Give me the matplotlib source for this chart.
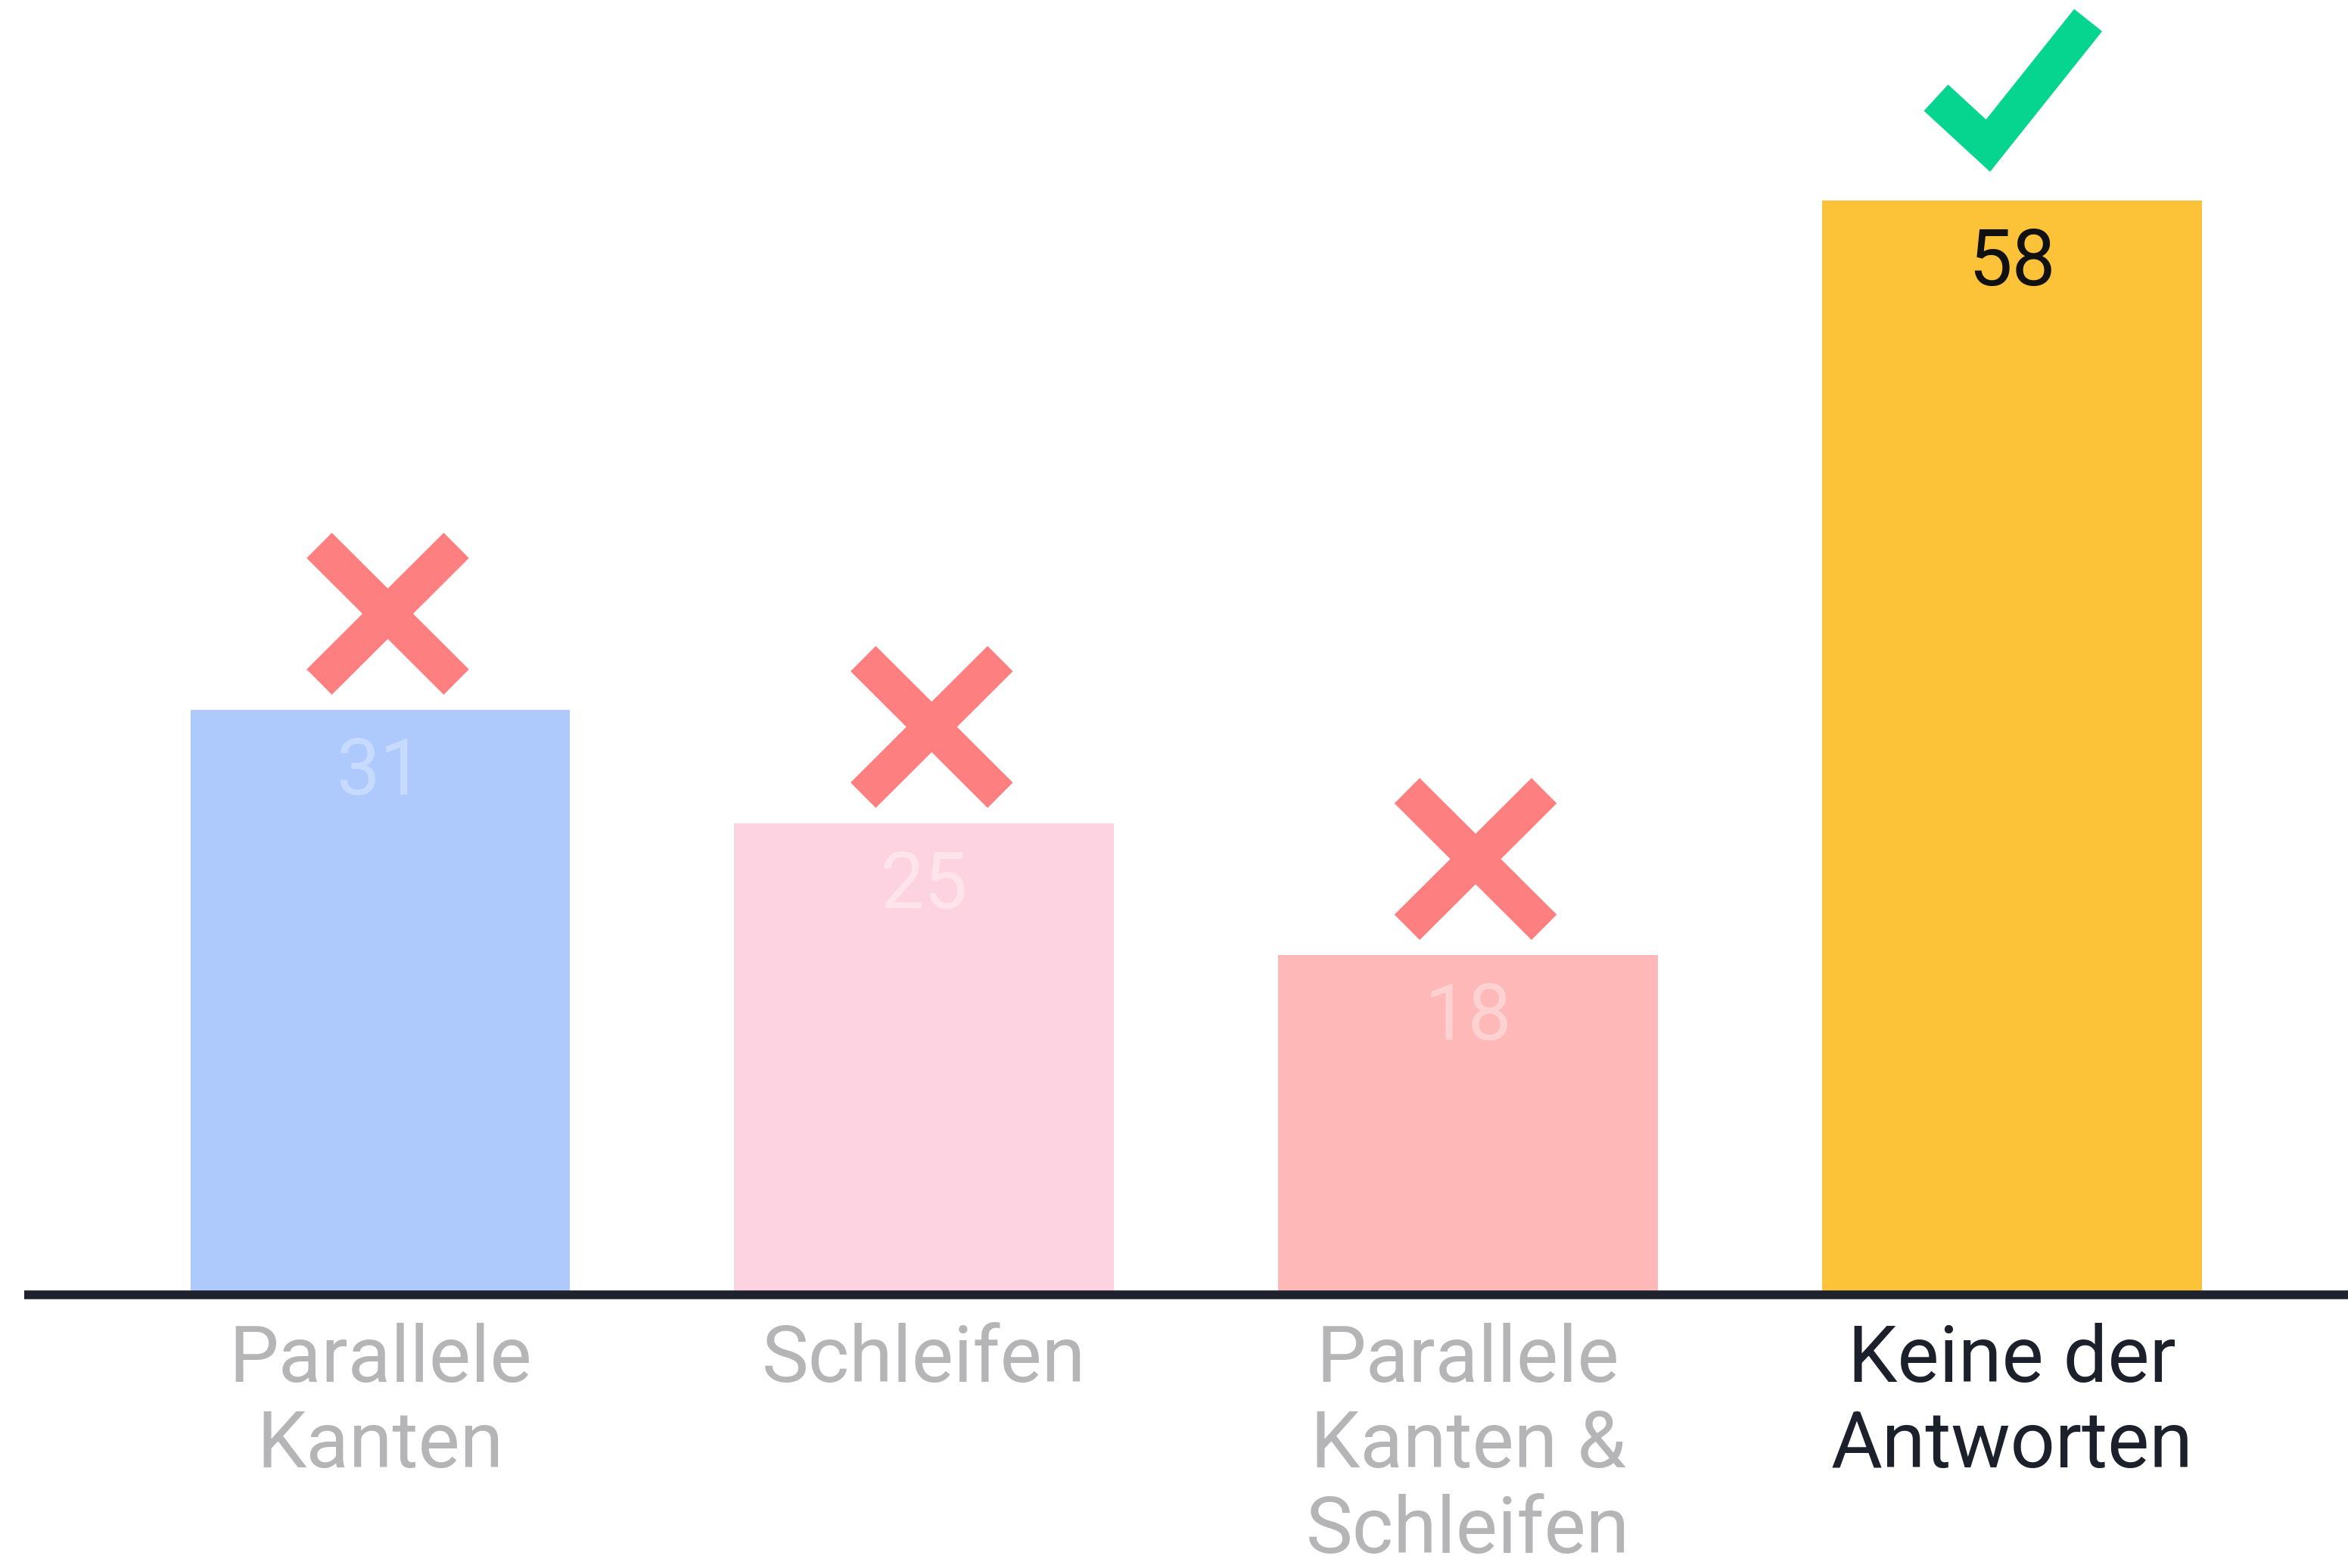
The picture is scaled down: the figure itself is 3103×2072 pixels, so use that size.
import matplotlib
matplotlib.use('AGG')
import matplotlib.pyplot as plt

# data
categories = ['Parallele\nKanten', 'Schleifen', 'Parallele\nKanten &\nSchleifen', 'Keine der\nAntworten']
values = [31, 25, 18, 58]
correct = [False, False, False, True]

bar_colors = ['#aecafc', '#fed3e1', '#feb8b8', '#fdc338']
value_colors = ['#c6dbff', '#ffe4ec', '#ffd2d2', '#111111']
label_colors = ['#b5b5b8', '#b5b5b8', '#b5b5b8', '#1c202b']

plt.rcParams['font.family'] = ['Roboto', 'DejaVu Sans']

fig = plt.figure(figsize=(31.03, 20.72), dpi=100)
ax = fig.add_axes([0, 0, 1, 1])
ax.set_xlim(-0.699, 3.618)
ax.set_ylim(-14.48, 68.63)
ax.axis('off')

xs = list(range(len(values)))
ax.bar(xs, values, width=0.698, color=bar_colors, zorder=1)

# baseline
ax.axhline(0, xmin=0.0103, xmax=1, lw=8.3, color='#1e222d', zorder=3,
           solid_capstyle='butt')

for x, v, lab, vc, lc, ok in zip(xs, values, categories, value_colors,
                                 label_colors, correct):
    ax.text(x, v - 4.5, str(v), ha='center', va='baseline', fontsize=74,
            color=vc, zorder=4)
    ax.text(x, -1.5, lab, ha='center', va='top', fontsize=75, color=lc,
            linespacing=1.18, zorder=4)
    if ok:
        # check mark
        ax.plot([x - 0.1395, x - 0.0438, x + 0.1402],
                [v + 5.45, v + 2.91, v + 9.56],
                color='#05d58f', lw=34, solid_capstyle='butt',
                solid_joinstyle='miter', zorder=4)
    else:
        # cross
        cx = x + 0.014
        cy = v + 5.1
        dx, dy = 0.126, 3.62
        ax.plot([cx - dx, cx + dx], [cy - dy, cy + dy], color='#fe7f7f',
                lw=34, solid_capstyle='butt', zorder=4)
        ax.plot([cx - dx, cx + dx], [cy + dy, cy - dy], color='#fe7f7f',
                lw=34, solid_capstyle='butt', zorder=4)

fig.savefig('out.png', dpi=100, facecolor='white')
plt.close('all')
